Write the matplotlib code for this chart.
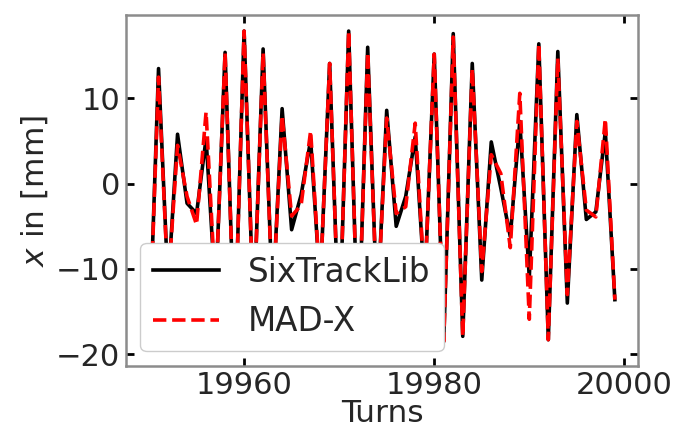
import numpy as np
import matplotlib
matplotlib.use("Agg")
import matplotlib.pyplot as plt

# turns and horizontal position x [mm]
turns = np.arange(19950, 20000)

x_sixtrack = [-19.5, 13.5, -12.0, 5.8, -2.3, -3.5, 5.3, -13.0, 15.4, -18.5,
              17.9, -15.5, 15.8, -14.0, 8.8, -5.4, -1.3, 5.1, -12.0, 14.1,
              -18.0, 17.9, -19.2, 16.0, -15.0, 8.6, -5.0, -1.5, 5.5, -12.0,
              15.2, -18.5, 17.6, -17.9, 14.1, -11.3, 4.9, -0.5, -6.2, 7.3,
              -11.0, 16.4, -18.3, 15.5, -14.0, 8.1, -4.2, -3.3, 6.1, -13.6]

x_madx = [-19.5, 12.5, -12.0, 4.5, -1.5, -4.8, 8.4, -13.0, 15.4, -18.5,
          17.9, -15.5, 15.4, -14.0, 8.0, -3.8, -2.5, 6.2, -12.0, 14.1,
          -18.0, 17.9, -19.2, 15.4, -15.0, 7.7, -3.5, -2.7, 7.1, -12.0,
          15.2, -18.5, 17.2, -17.9, 13.5, -10.3, 3.4, 1.2, -7.5, 10.6,
          -15.9, 16.4, -18.3, 14.7, -13.0, 7.3, -3.1, -3.9, 7.6, -13.6]

txt = "#262626"
plt.rcParams.update({
    "font.family": "DejaVu Sans",
    "font.size": 22.5,
    "text.color": txt,
    "axes.labelcolor": txt,
    "xtick.color": "black",
    "ytick.color": "black",
    "xtick.labelcolor": txt,
    "ytick.labelcolor": txt,
})

fig = plt.figure(figsize=(6.76, 4.32), dpi=100)
ax = fig.add_axes([0.186, 0.153, 0.758, 0.812])

ax.plot(turns, x_sixtrack, color="black", lw=2.6, label="SixTrackLib")
ax.plot(turns, x_madx, color="red", lw=2.6, ls="--", label="MAD-X")

ax.set_xlabel("Turns", labelpad=-1)
ax.set_ylabel("$x$ in [mm]", labelpad=4)
ax.set_xticks([19960, 19980, 20000])
ax.set_yticks([-20, -10, 0, 10])
ax.tick_params(direction="in", top=True, right=True, length=6, width=2,
               labelsize=22, pad=4)

for s in ax.spines.values():
    s.set_color("#8c8c8c")
    s.set_linewidth(1.8)

ax.legend(loc="lower left", fontsize=23.5, framealpha=1, borderaxespad=0.45,
          borderpad=0.4, handletextpad=0.9)

fig.savefig("out.png", dpi=100)
